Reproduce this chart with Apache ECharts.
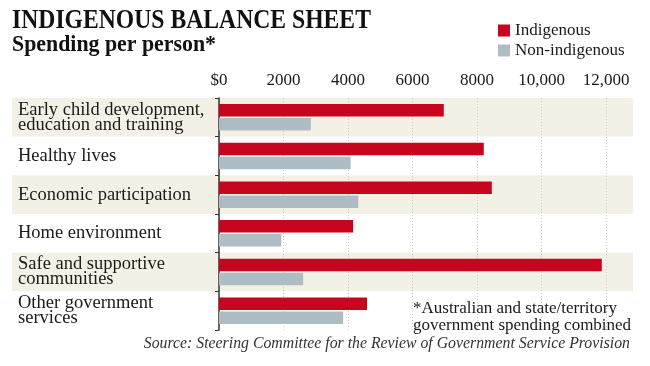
<!DOCTYPE html>
<html><head><meta charset="utf-8">
<script src="https://cdn.jsdelivr.net/npm/echarts@6/dist/echarts.min.js"></script>
<style>html,body{margin:0;padding:0;background:#fff}#c{width:650px;height:366px}</style>
</head><body><div id="c"></div>
<script>
var categories = ['Early child development,\neducation and training','Healthy lives','Economic participation','Home environment','Safe and supportive\ncommunities','Other government\nservices'];
var indigenous = [6970, 8210, 8460, 4160, 11870, 4590];
var nonIndigenous = [2850, 4080, 4320, 1930, 2610, 3850];
var tickLabels = ['$0','2000','4000','6000','8000','10,000','12,000'];

var serif = 'Liberation Serif';
var chart = echarts.init(document.getElementById('c'), null, {renderer:'canvas'});
chart.setOption({
  animation: false,
  backgroundColor: '#fff',
  grid: [
    {left: 12, right: 17, top: 98, height: 232},
    {left: 219, right: 44, top: 98, height: 232}
  ],
  xAxis: [
    {gridIndex: 0, type: 'value', min: 0, max: 1, show: false},
    {gridIndex: 1, type: 'value', position: 'top', min: 0, max: 12000, interval: 2000,
     axisLine: {show: false}, axisTick: {show: false},
     axisLabel: {margin: 9, fontFamily: serif, fontSize: 17, color: '#1a1a1a',
       formatter: function(v){ return tickLabels[Math.round(v/2000)]; }},
     splitLine: {show: true, lineStyle: {color: '#c9c9c9', type: [1,2], width: 1}}}
  ],
  yAxis: [
    {gridIndex: 0, type: 'category', data: categories, inverse: true,
     axisLine: {show: false}, axisTick: {show: false},
     splitArea: {show: true, areaStyle: {color: ['#f3f0e6', '#ffffff']}},
     axisLabel: {inside: true, margin: 6, fontFamily: serif, fontSize: 18.5, lineHeight: 15, color: '#1a1a1a'}},
    {gridIndex: 1, type: 'category', data: categories, inverse: true,
     axisLine: {show: true, lineStyle: {color: '#333', width: 1.5}},
     axisTick: {show: true, length: 4, lineStyle: {color: '#333'}},
     axisLabel: {show: false}}
  ],
  legend: {
    orient: 'vertical', left: 493, top: 17, itemWidth: 12, itemHeight: 12, itemGap: 3,
    icon: 'rect',
    textStyle: {fontFamily: serif, fontSize: 17, color: '#1a1a1a'},
    data: ['Indigenous','Non-indigenous']
  },
  series: [
    {name: 'Indigenous', type: 'bar', xAxisIndex: 1, yAxisIndex: 1, data: indigenous,
     barWidth: 12.5, barGap: '12%', itemStyle: {color: '#c8051f'}},
    {name: 'Non-indigenous', type: 'bar', xAxisIndex: 1, yAxisIndex: 1, data: nonIndigenous,
     barWidth: 12.5, barGap: '12%', itemStyle: {color: '#adbdc3'}}
  ],
  graphic: [
    {type: 'text', left: 12, top: 7, scaleX: 0.845, z: 100,
     style: {text: 'INDIGENOUS BALANCE SHEET', font: 'bold 28px "Liberation Serif"', fill: '#111'}},
    {type: 'text', left: 12, top: 34, scaleX: 0.95, z: 100,
     style: {text: 'Spending per person*', font: 'bold 23px "Liberation Serif"', fill: '#111'}},
    {type: 'text', left: 413, top: 300, z: 100,
     style: {text: '*Australian and state/territory\ngovernment spending combined', font: '17px "Liberation Serif"', lineHeight: 17, fill: '#1a1a1a'}},
    {type: 'text', right: 20, top: 336, z: 100,
     style: {text: 'Source: Steering Committee for the Review of Government Service Provision', font: 'italic 15.8px "Liberation Serif"', fill: '#333'}}
  ]
});
</script></body></html>
